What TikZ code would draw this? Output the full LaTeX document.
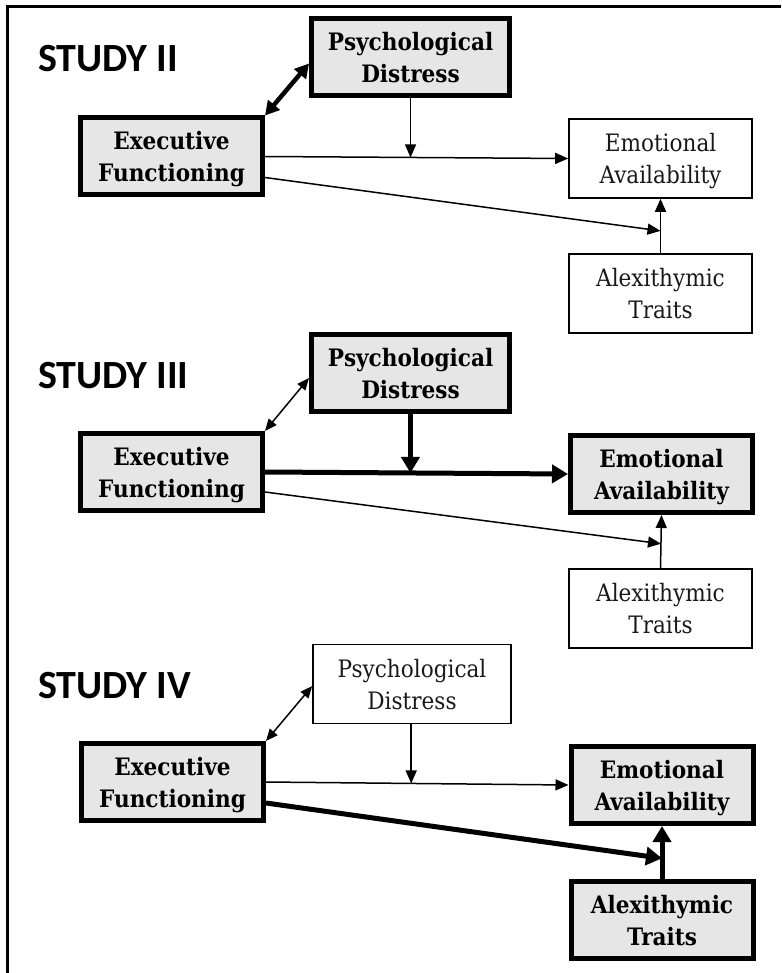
\documentclass[tikz,border=0pt]{standalone}
\usepackage{fontspec}
\setmainfont{DejaVu Serif Condensed}
\newfontfamily\labelfont{Carlito}
\usetikzlibrary{arrows.meta,calc}
\definecolor{boxgray}{RGB}{230,230,230}
\definecolor{txt}{RGB}{25,25,25}

\tikzset{
  box/.style={draw, line width=1.6pt, minimum width=183pt, minimum height=79pt,
    inner sep=0pt, align=center, text=txt, text depth=0pt,
    font=\fontsize{24}{32}\selectfont},
  boldbox/.style={box, line width=5pt, fill=boxgray, text=black,
    minimum width=182pt, minimum height=77pt,
    font=\fontsize{24}{32}\selectfont\bfseries},
  widebox/.style={minimum width=198pt},
  studylabel/.style={anchor=base west, inner sep=0pt,
    font=\labelfont\bfseries\fontsize{40}{42}\selectfont},
  thinarrow/.style={line width=1.5pt, -{Triangle[length=13pt,width=11pt]}},
  thickarrow/.style={line width=5pt, -{Triangle[length=16pt,width=18pt]}},
  thinlink/.style={line width=1.5pt, {Triangle[length=12pt,width=10pt]}-{Triangle[length=12pt,width=10pt]}},
  thicklink/.style={line width=4.5pt, {Triangle[length=14pt,width=15pt]}-{Triangle[length=14pt,width=15pt]}},
}

\begin{document}
\begin{tikzpicture}[x=1pt,y=-1pt]
\useasboundingbox (0,0) rectangle (781,973);

% outer frame (top and left edges only)
\draw[line width=3pt] (7,973) -- (7,7) -- (781,7);

% ---------------- Study II ----------------
\node[studylabel] (lab2) at (38,72) {STUDY II};
\node[boldbox] (ef2) at (171.5,156.5) {Executive\\Functioning};
\node[boldbox,widebox] (pd2) at (410.5,57.5) {Psychological\\Distress};
\node[box] (ea2) at (660.5,158.5) {Emotional\\Availability};
\node[box] (at2) at (660.5,293.5) {Alexithymic\\Traits};

\draw[thicklink] (ef2.north east) -- ([yshift=-6pt]pd2.west);
\path (ef2.east) -- (ea2.west) coordinate[pos=0.48] (m2);
\draw[thinarrow] (ef2.east) -- (ea2.west);
\draw[thinarrow] (pd2.south -| m2) -- (m2);
\draw[thinarrow] (at2.north) -- (ea2.south);
\path (at2.north) -- (ea2.south) coordinate[pos=0.41] (n2);
\draw[thinarrow] ([yshift=-21pt]ef2.east) -- (n2);

% ---------------- Study III ----------------
\node[studylabel] (lab3) at (38,388) {STUDY III};
\node[boldbox] (ef3) at (171.5,472) {Executive\\Functioning};
\node[boldbox,widebox] (pd3) at (410.5,373) {Psychological\\Distress};
\node[boldbox] (ea3) at (661.5,474) {Emotional\\Availability};
\node[box] (at3) at (660.5,608.5) {Alexithymic\\Traits};

\draw[thinlink] (ef3.north east) -- ([yshift=-5pt]pd3.west);
\path (ef3.east) -- (ea3.west) coordinate[pos=0.48] (m3);
\draw[thickarrow] (ef3.east) -- (ea3.west);
\draw[thickarrow] (pd3.south -| m3) -- (m3);
\draw[thinarrow] (at3.north) -- (ea3.south);
\path (at3.north) -- (ea3.south) coordinate[pos=0.46] (n3);
\draw[thinarrow] ([yshift=-20pt]ef3.east) -- (n3);

% ---------------- Study IV ----------------
\node[studylabel] (lab4) at (38,698) {STUDY IV};
\node[boldbox] (ef4) at (172.5,782) {Executive\\Functioning};
\node[box,widebox] (pd4) at (412,684) {Psychological\\Distress};
\node[boldbox] (ea4) at (662,785) {Emotional\\Availability};
\node[boldbox] (at4) at (662,920) {Alexithymic\\Traits};

\draw[thinlink] (ef4.north east) -- ([yshift=-2pt]pd4.west);
\path (ef4.east) -- (ea4.west) coordinate[pos=0.48] (m4);
\draw[thinarrow] (ef4.east) -- (ea4.west);
\draw[thinarrow] (pd4.south -| m4) -- (m4);
\draw[thickarrow] (at4.north) -- (ea4.south);
\path (at4.north) -- (ea4.south) coordinate[pos=0.39] (n4);
\draw[thickarrow] ([yshift=-21pt]ef4.east) -- (n4);
\end{tikzpicture}
\end{document}
